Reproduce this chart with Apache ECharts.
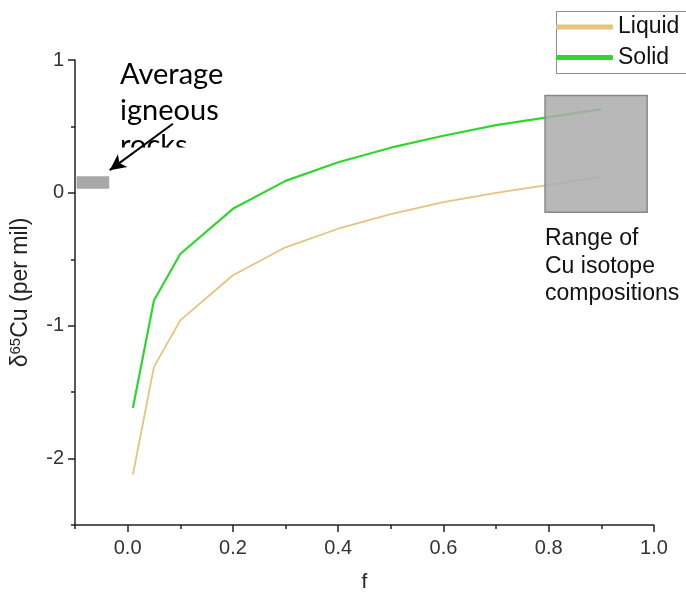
<!DOCTYPE html>
<html>
<head>
<meta charset="utf-8">
<script src="https://cdn.jsdelivr.net/npm/echarts@6/dist/echarts.min.js"></script>
<style>
html,body{margin:0;padding:0;background:#fff;}
#chart{width:686px;height:598px;}
</style>
</head>
<body>
<div id="chart"></div>
<script>
// ---- data ----
const fValues = [0.01, 0.05, 0.1, 0.2, 0.3, 0.4, 0.5, 0.6, 0.7, 0.8, 0.9];
const liquid  = [-2.12, -1.31, -0.96, -0.62, -0.41, -0.27, -0.16, -0.07, 0.00, 0.06, 0.12];
const solid   = [-1.62, -0.81, -0.46, -0.12, 0.09, 0.23, 0.34, 0.43, 0.51, 0.57, 0.63];
const seriesNames = ['Liquid', 'Solid'];
const xMajorTicks = [0, 0.2, 0.4, 0.6, 0.8, 1.0];
const xMinorTicks = [-0.1, 0.1, 0.3, 0.5, 0.7, 0.9];
const yMajorTicks = [-2, -1, 0, 1];
const yMinorTicks = [-2.5, -1.5, -0.5, 0.5];
// boxes: [x0, x1, y0, y1]
const rangeBox = [0.793, 0.987, -0.146, 0.733];
const igneousBox = [-0.097, -0.035, 0.03, 0.125];
// arrow: from [f, d] to [f, d]
const arrowFrom = [0.086, 0.52];
const arrowTo = [-0.034, 0.171];

const FONT = 'Liberation Sans, Arial, sans-serif';
const chart = echarts.init(document.getElementById('chart'), null, {renderer: 'canvas'});

function boxItem(b, fill) {
  return {value: b, itemStyle: {color: fill}};
}

const option = {
  backgroundColor: '#fff',
  animation: false,
  grid: {left: 74, right: 32, top: 60, bottom: 71, containLabel: false},
  legend: {
    data: seriesNames,
    orient: 'vertical',
    left: 556, top: 11,
    padding: [3, 0, 3, 0],
    itemGap: 4.6,
    itemWidth: 57, itemHeight: 5,
    icon: 'roundRect',
    borderWidth: 0,
    textStyle: {fontFamily: FONT, fontSize: 23, color: '#111', lineHeight: 26}
  },
  xAxis: [{
    type: 'value', min: -0.1, max: 1.0, position: 'bottom',
    axisLine: {onZero: false, lineStyle: {color: '#222', width: 1.5}},
    axisTick: {customValues: xMajorTicks, length: 7, lineStyle: {color: '#222', width: 1.5}},
    axisLabel: {customValues: xMajorTicks, margin: 13, fontFamily: FONT, fontSize: 20, color: '#333',
      formatter: v => v.toFixed(1)},
    splitLine: {show: false},
    name: 'f', nameLocation: 'middle', nameGap: 47,
    nameTextStyle: {fontFamily: FONT, fontSize: 21, color: '#222'}
  }, {
    type: 'value', min: -0.1, max: 1.0, position: 'bottom',
    axisLine: {show: false, onZero: false},
    axisTick: {customValues: xMinorTicks, length: 4, lineStyle: {color: '#222', width: 1.5}},
    axisLabel: {show: false}, splitLine: {show: false}
  }],
  yAxis: [{
    type: 'value', min: -2.5, max: 1, position: 'left',
    axisLine: {onZero: false, lineStyle: {color: '#222', width: 1.5}},
    axisTick: {customValues: yMajorTicks, length: 7, lineStyle: {color: '#222', width: 1.5}},
    axisLabel: {customValues: yMajorTicks, margin: 11, fontFamily: FONT, fontSize: 20, color: '#333'},
    splitLine: {show: false},
    name: '{d|δ}{s|65}{d|Cu (per mil)}',
    nameLocation: 'middle', nameGap: 41, nameRotate: 90,
    nameTextStyle: {
      rich: {
        d: {fontFamily: FONT, fontSize: 23, color: '#222', lineHeight: 26},
        s: {fontFamily: FONT, fontSize: 15, color: '#222', verticalAlign: 'top', lineHeight: 16}
      }
    }
  }, {
    type: 'value', min: -2.5, max: 1, position: 'left',
    axisLine: {show: false, onZero: false},
    axisTick: {customValues: yMinorTicks, length: 4, lineStyle: {color: '#222', width: 1.5}},
    axisLabel: {show: false}, splitLine: {show: false}
  }],
  graphic: [
    {
      type: 'rect', shape: {x: 556.5, y: 11.5, width: 160, height: 62}, z: 1,
      style: {fill: 'none', stroke: '#8c8c8c', lineWidth: 1}
    },
    {
      type: 'text', left: 120, top: 57, z: 1,
      style: {text: 'Average\nigneous\nrocks', font: '29px Lato, "Open Sans", sans-serif',
        fill: '#000', lineHeight: 35.5}
    },
    {
      type: 'rect', shape: {x: 112, y: 147.5, width: 120, height: 28}, z: 1,
      style: {fill: '#fff'}
    },
    {
      type: 'text', left: 545, top: 225, z: 1,
      style: {text: 'Range of\nCu isotope\ncompositions', font: '23px ' + FONT,
        fill: '#111', lineHeight: 27.5}
    }
  ],
  series: [
    {
      name: 'Liquid', type: 'line', xAxisIndex: 0, yAxisIndex: 0, z: 3,
      data: fValues.map((f, i) => [f, liquid[i]]),
      showSymbol: false, symbol: 'none',
      lineStyle: {color: '#e6c47f', width: 1.8},
      itemStyle: {color: '#e6c47f'}
    },
    {
      name: 'Solid', type: 'line', xAxisIndex: 0, yAxisIndex: 0, z: 3,
      data: fValues.map((f, i) => [f, solid[i]]),
      showSymbol: false, symbol: 'none',
      lineStyle: {color: '#2fd62f', width: 2.2},
      itemStyle: {color: '#2fd62f'}
    },
    {
      name: 'boxes', type: 'custom', xAxisIndex: 0, yAxisIndex: 0, z: 5,
      encode: {x: [0, 1], y: [2, 3]},
      data: [
        boxItem(rangeBox, 'rgba(172,172,172,0.86)'),
        boxItem(igneousBox, '#a8a8a8')
      ],
      renderItem: function (params, api) {
        const p0 = api.coord([api.value(0), api.value(3)]);
        const p1 = api.coord([api.value(1), api.value(2)]);
        const st = api.style();
        return {
          type: 'rect',
          shape: {x: p0[0], y: p0[1], width: p1[0] - p0[0], height: p1[1] - p0[1]},
          style: {fill: st.fill, stroke: params.dataIndex === 0 ? '#888' : null,
            lineWidth: params.dataIndex === 0 ? 1.5 : 0}
        };
      },
      markLine: {
        silent: true, animation: false,
        symbol: ['none', 'arrow'], symbolSize: [12, 16],
        label: {show: false},
        lineStyle: {color: '#000', width: 2, type: 'solid'},
        data: [[{coord: arrowFrom}, {coord: arrowTo}]]
      }
    }
  ]
};
chart.setOption(option);
</script>
</body>
</html>
